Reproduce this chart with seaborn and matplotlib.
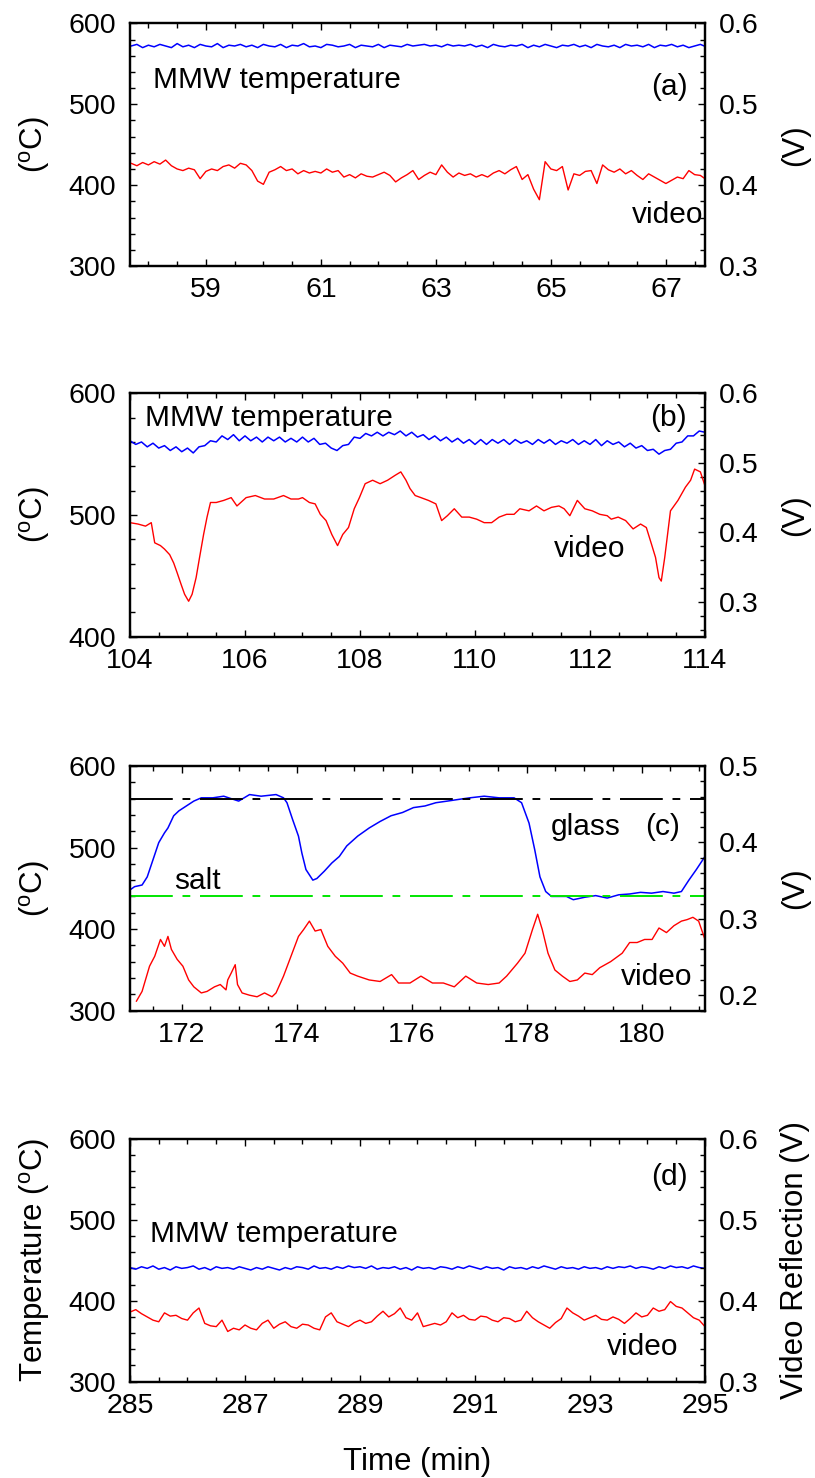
import matplotlib
matplotlib.use('Agg')
import matplotlib.pyplot as plt
from matplotlib.ticker import MultipleLocator
import seaborn as sns

# ---------------- panel (a) ----------------
# MMW and video share one time base in this panel
time_a = [
    57.7, 57.8, 57.9, 58.0, 58.1, 58.2, 58.3, 58.4, 58.5, 58.6,
    58.7, 58.8, 58.9, 59.0, 59.1, 59.2, 59.3, 59.4, 59.5, 59.6,
    59.7, 59.8, 59.9, 60.0, 60.1, 60.2, 60.3, 60.4, 60.5, 60.6,
    60.7, 60.8, 60.9, 61.0, 61.1, 61.2, 61.3, 61.4, 61.5, 61.6,
    61.7, 61.8, 61.9, 62.0, 62.1, 62.2, 62.3, 62.4, 62.5, 62.6,
    62.7, 62.8, 62.9, 63.0, 63.1, 63.2, 63.3, 63.4, 63.5, 63.6,
    63.7, 63.8, 63.9, 64.0, 64.1, 64.2, 64.3, 64.4, 64.5, 64.6,
    64.7, 64.8, 64.9, 65.0, 65.1, 65.2, 65.3, 65.4, 65.5, 65.6,
    65.7, 65.8, 65.9, 66.0, 66.1, 66.2, 66.3, 66.4, 66.5, 66.6,
    66.7, 66.8, 66.9, 67.0, 67.1, 67.2, 67.3, 67.4, 67.5, 67.6,
    67.7]
mmw_a = [
    572, 574, 570, 573, 571, 574, 572, 570, 575, 571,
    573, 570, 574, 572, 571, 575, 570, 573, 572, 574,
    571, 573, 570, 574, 572, 571, 574, 570, 573, 572,
    575, 571, 572, 570, 574, 573, 571, 572, 574, 570,
    573, 572, 571, 574, 570, 573, 572, 571, 574, 572,
    573, 574, 572, 573, 571, 574, 572, 573, 572, 574,
    571, 573, 570, 574, 572, 571, 573, 572, 574, 570,
    573, 571, 574, 572, 570, 573, 572, 574, 571, 573,
    570, 574, 572, 571, 573, 570, 574, 572, 573, 571,
    574, 570, 573, 572, 574, 571, 573, 570, 572, 574,
    571]
video_a = [
    0.427, 0.424, 0.428, 0.425, 0.429, 0.426, 0.431, 0.424, 0.420, 0.418,
    0.421, 0.419, 0.408, 0.417, 0.420, 0.418, 0.423, 0.425, 0.421, 0.427,
    0.425, 0.418, 0.405, 0.401, 0.416, 0.419, 0.423, 0.418, 0.420, 0.414,
    0.418, 0.415, 0.417, 0.415, 0.420, 0.416, 0.418, 0.410, 0.413, 0.409,
    0.414, 0.411, 0.410, 0.413, 0.416, 0.412, 0.404, 0.409, 0.413, 0.418,
    0.407, 0.412, 0.416, 0.413, 0.425, 0.416, 0.410, 0.415, 0.412, 0.414,
    0.410, 0.413, 0.410, 0.415, 0.418, 0.414, 0.419, 0.423, 0.407, 0.413,
    0.395, 0.382, 0.429, 0.420, 0.418, 0.423, 0.394, 0.414, 0.412, 0.417,
    0.418, 0.402, 0.425, 0.419, 0.416, 0.420, 0.414, 0.418, 0.412, 0.407,
    0.414, 0.410, 0.406, 0.402, 0.406, 0.410, 0.408, 0.418, 0.413, 0.412,
    0.407]

# ---------------- panel (b) ----------------
time_b_mmw = [
    104.0, 104.1, 104.2, 104.3, 104.4, 104.5, 104.6, 104.7, 104.8, 104.9,
    105.0, 105.1, 105.2, 105.3, 105.4, 105.5, 105.6, 105.7, 105.8, 105.9,
    106.0, 106.1, 106.2, 106.3, 106.4, 106.5, 106.6, 106.7, 106.8, 106.9,
    107.0, 107.1, 107.2, 107.3, 107.4, 107.5, 107.6, 107.7, 107.8, 107.9,
    108.0, 108.1, 108.2, 108.3, 108.4, 108.5, 108.6, 108.7, 108.8, 108.9,
    109.0, 109.1, 109.2, 109.3, 109.4, 109.5, 109.6, 109.7, 109.8, 109.9,
    110.0, 110.1, 110.2, 110.3, 110.4, 110.5, 110.6, 110.7, 110.8, 110.9,
    111.0, 111.1, 111.2, 111.3, 111.4, 111.5, 111.6, 111.7, 111.8, 111.9,
    112.0, 112.1, 112.2, 112.3, 112.4, 112.5, 112.6, 112.7, 112.8, 112.9,
    113.0, 113.1, 113.2, 113.3, 113.4, 113.5, 113.6, 113.7, 113.8, 113.9,
    114.0]
mmw_b = [
    561, 558, 560, 556, 559, 555, 557, 553, 556, 552,
    555, 551, 556, 557, 561, 560, 565, 562, 566, 561,
    565, 561, 564, 560, 564, 561, 564, 560, 563, 560,
    564, 560, 563, 558, 559, 555, 553, 557, 558, 564,
    563, 567, 565, 568, 565, 568, 566, 569, 565, 568,
    564, 566, 562, 565, 561, 564, 560, 563, 559, 562,
    558, 562, 558, 562, 559, 562, 558, 562, 559, 561,
    558, 562, 559, 562, 558, 561, 559, 562, 558, 561,
    558, 562, 557, 561, 558, 560, 556, 559, 555, 557,
    553, 554, 550, 553, 554, 559, 560, 565, 565, 569,
    568]
time_b_video = [
    104.00, 104.14, 104.27, 104.37, 104.43, 104.53, 104.60, 104.69, 104.76, 104.82,
    104.89, 104.95, 105.02, 105.08, 105.15, 105.21, 105.28, 105.34, 105.40, 105.50,
    105.63, 105.76, 105.86, 106.02, 106.18, 106.34, 106.50, 106.67, 106.80, 106.93,
    107.00, 107.12, 107.22, 107.31, 107.41, 107.51, 107.61, 107.70, 107.80, 107.90,
    107.99, 108.09, 108.22, 108.35, 108.48, 108.61, 108.71, 108.80, 108.87, 108.96,
    109.06, 109.19, 109.32, 109.42, 109.52, 109.64, 109.77, 109.90, 110.03, 110.16,
    110.29, 110.42, 110.55, 110.68, 110.78, 110.94, 111.07, 111.20, 111.33, 111.46,
    111.55, 111.65, 111.78, 111.91, 112.04, 112.17, 112.30, 112.37, 112.49, 112.62,
    112.75, 112.88, 112.98, 113.07, 113.14, 113.20, 113.24, 113.30, 113.40, 113.53,
    113.66, 113.75, 113.82, 113.92, 114.00]
video_b = [
    0.414, 0.412, 0.409, 0.414, 0.385, 0.381, 0.376, 0.368, 0.356, 0.342,
    0.325, 0.311, 0.301, 0.311, 0.335, 0.364, 0.397, 0.422, 0.443, 0.443,
    0.446, 0.450, 0.438, 0.450, 0.453, 0.448, 0.448, 0.453, 0.448, 0.448,
    0.450, 0.443, 0.441, 0.426, 0.417, 0.397, 0.381, 0.397, 0.407, 0.434,
    0.450, 0.470, 0.475, 0.470, 0.475, 0.482, 0.487, 0.475, 0.463, 0.453,
    0.450, 0.446, 0.441, 0.417, 0.424, 0.434, 0.422, 0.422, 0.419, 0.414,
    0.414, 0.422, 0.426, 0.426, 0.434, 0.431, 0.438, 0.431, 0.436, 0.438,
    0.434, 0.424, 0.446, 0.434, 0.431, 0.426, 0.424, 0.419, 0.422, 0.417,
    0.405, 0.412, 0.407, 0.383, 0.364, 0.335, 0.330, 0.364, 0.431, 0.446,
    0.465, 0.475, 0.491, 0.487, 0.467]

# ---------------- panel (c) ----------------
time_c_mmw = [
    171.10, 171.18, 171.31, 171.40, 171.50, 171.60, 171.70, 171.76, 171.86, 171.95,
    172.08, 172.21, 172.34, 172.54, 172.73, 172.99, 173.18, 173.38, 173.64, 173.77,
    173.83, 173.93, 174.03, 174.09, 174.16, 174.28, 174.35, 174.48, 174.61, 174.74,
    174.87, 175.06, 175.26, 175.45, 175.64, 175.84, 176.03, 176.23, 176.42, 176.62,
    176.81, 177.01, 177.26, 177.52, 177.78, 177.91, 178.04, 178.14, 178.23, 178.33,
    178.43, 178.69, 178.81, 179.01, 179.20, 179.40, 179.60, 179.79, 179.98, 180.17,
    180.37, 180.56, 180.69, 180.82, 180.95, 181.10]
mmw_c = [
    448, 452, 454, 464, 485, 506, 518, 524, 539, 545,
    551, 557, 561, 561, 563, 557, 565, 563, 565, 561,
    555, 534, 514, 493, 473, 460, 462, 471, 481, 489,
    502, 514, 524, 532, 539, 543, 549, 551, 555, 557,
    559, 561, 563, 561, 561, 555, 530, 497, 464, 446,
    440, 440, 436, 439, 441, 438, 442, 443, 445, 444,
    446, 444, 446, 460, 473, 489]
time_c_video = [
    171.21, 171.31, 171.44, 171.53, 171.63, 171.70, 171.76, 171.82, 171.92, 172.02,
    172.12, 172.21, 172.34, 172.44, 172.57, 172.67, 172.77, 172.80, 172.86, 172.93,
    172.97, 173.05, 173.18, 173.31, 173.44, 173.57, 173.64, 173.77, 173.90, 174.03,
    174.12, 174.22, 174.32, 174.42, 174.54, 174.67, 174.80, 174.93, 175.06, 175.26,
    175.45, 175.65, 175.77, 175.97, 176.16, 176.36, 176.55, 176.74, 176.94, 177.13,
    177.33, 177.52, 177.65, 177.84, 177.97, 178.10, 178.19, 178.27, 178.37, 178.49,
    178.62, 178.75, 178.88, 179.01, 179.14, 179.27, 179.46, 179.66, 179.79, 179.92,
    180.05, 180.18, 180.30, 180.43, 180.56, 180.69, 180.79, 180.89, 180.99, 181.10]
video_c = [
    0.192, 0.205, 0.238, 0.251, 0.273, 0.264, 0.277, 0.260, 0.247, 0.238,
    0.220, 0.211, 0.203, 0.205, 0.211, 0.214, 0.207, 0.220, 0.229, 0.240,
    0.214, 0.203, 0.200, 0.198, 0.203, 0.198, 0.203, 0.225, 0.251, 0.277,
    0.286, 0.297, 0.284, 0.286, 0.264, 0.251, 0.242, 0.229, 0.225, 0.220,
    0.218, 0.227, 0.216, 0.216, 0.225, 0.216, 0.216, 0.211, 0.225, 0.216,
    0.214, 0.216, 0.225, 0.242, 0.255, 0.286, 0.306, 0.286, 0.255, 0.233,
    0.225, 0.218, 0.220, 0.229, 0.227, 0.236, 0.244, 0.255, 0.269, 0.269,
    0.273, 0.273, 0.288, 0.282, 0.291, 0.297, 0.299, 0.302, 0.297, 0.273]
glass_temp = 560
salt_temp = 440

# ---------------- panel (d) ----------------
time_d = [
    285.0, 285.1, 285.2, 285.3, 285.4, 285.5, 285.6, 285.7, 285.8, 285.9,
    286.0, 286.1, 286.2, 286.3, 286.4, 286.5, 286.6, 286.7, 286.8, 286.9,
    287.0, 287.1, 287.2, 287.3, 287.4, 287.5, 287.6, 287.7, 287.8, 287.9,
    288.0, 288.1, 288.2, 288.3, 288.4, 288.5, 288.6, 288.7, 288.8, 288.9,
    289.0, 289.1, 289.2, 289.3, 289.4, 289.5, 289.6, 289.7, 289.8, 289.9,
    290.0, 290.1, 290.2, 290.3, 290.4, 290.5, 290.6, 290.7, 290.8, 290.9,
    291.0, 291.1, 291.2, 291.3, 291.4, 291.5, 291.6, 291.7, 291.8, 291.9,
    292.0, 292.1, 292.2, 292.3, 292.4, 292.5, 292.6, 292.7, 292.8, 292.9,
    293.0, 293.1, 293.2, 293.3, 293.4, 293.5, 293.6, 293.7, 293.8, 293.9,
    294.0, 294.1, 294.2, 294.3, 294.4, 294.5, 294.6, 294.7, 294.8, 294.9,
    295.0]
mmw_d = [
    441, 439, 442, 440, 443, 439, 441, 438, 442, 440,
    441, 443, 439, 441, 438, 442, 440, 441, 439, 442,
    440, 438, 441, 439, 442, 440, 438, 441, 439, 442,
    441, 439, 443, 440, 441, 439, 442, 440, 443, 441,
    442, 440, 443, 439, 441, 440, 442, 439, 441, 438,
    442, 440, 441, 439, 442, 441, 439, 442, 440, 443,
    441, 439, 442, 440, 441, 438, 442, 440, 441, 439,
    442, 440, 443, 441, 439, 442, 440, 441, 439, 442,
    440, 441, 439, 442, 440, 442, 441, 443, 440, 442,
    441, 439, 442, 440, 443, 441, 442, 440, 443, 441,
    440]
video_d = [
    0.386, 0.389, 0.384, 0.380, 0.376, 0.374, 0.385, 0.381, 0.382, 0.378,
    0.376, 0.385, 0.391, 0.372, 0.369, 0.368, 0.376, 0.362, 0.366, 0.364,
    0.370, 0.366, 0.364, 0.372, 0.376, 0.366, 0.371, 0.374, 0.368, 0.366,
    0.371, 0.370, 0.366, 0.364, 0.380, 0.385, 0.374, 0.371, 0.368, 0.373,
    0.376, 0.372, 0.374, 0.381, 0.387, 0.380, 0.384, 0.391, 0.379, 0.376,
    0.385, 0.368, 0.370, 0.372, 0.370, 0.374, 0.385, 0.379, 0.382, 0.377,
    0.376, 0.381, 0.380, 0.376, 0.374, 0.379, 0.378, 0.374, 0.376, 0.387,
    0.379, 0.374, 0.370, 0.366, 0.373, 0.378, 0.391, 0.385, 0.381, 0.376,
    0.379, 0.382, 0.377, 0.376, 0.380, 0.377, 0.372, 0.378, 0.385, 0.380,
    0.382, 0.391, 0.387, 0.389, 0.399, 0.393, 0.391, 0.385, 0.379, 0.376,
    0.368]

# ---------------- styling ----------------
sns.set_style('ticks')
plt.rcParams['font.family'] = ['Liberation Sans', 'DejaVu Sans']
plt.rcParams['mathtext.fontset'] = 'custom'
plt.rcParams['mathtext.rm'] = 'Liberation Sans'
plt.rcParams['mathtext.it'] = 'Liberation Sans:italic'
for key in ['text.color', 'axes.labelcolor', 'xtick.color', 'ytick.color', 'axes.edgecolor']:
    plt.rcParams[key] = 'black'

TICK_SIZE = 20.5
TEXT_SIZE = 21.5
LABEL_SIZE = 22.5
BLUE = '#0000ff'
RED = '#ff0000'
GREEN = '#00e600'
DASH_DOT = (0, (22, 5, 4, 5))
DEG_C = r'($^{\rm o}$C)'

fig = plt.figure(figsize=(8.15, 14.78), dpi=100)


def make_panel(rect, t_mmw, mmw, t_vid, vid, xlim, xticks, tlim, tticks, vlim, vticks):
    ax = fig.add_axes(rect)
    ax2 = ax.twinx()

    # MMW temperature on the left axis, video reflection on the right axis
    sns.lineplot(x=t_mmw, y=mmw, ax=ax, color=BLUE, linewidth=1.1, legend=False)
    sns.lineplot(x=t_vid, y=vid, ax=ax2, color=RED, linewidth=1.0, legend=False)

    ax.set_xlim(*xlim)
    ax.set_ylim(*tlim)
    ax2.set_ylim(*vlim)

    ax.set_xticks(xticks)
    ax.set_xticklabels([str(x) for x in xticks])
    ax.set_yticks(tticks)
    ax.set_yticklabels([str(t) for t in tticks])
    ax2.set_yticks(vticks)
    ax2.set_yticklabels(['%.1f' % v for v in vticks])

    ax.xaxis.set_minor_locator(MultipleLocator(0.5))
    ax.yaxis.set_minor_locator(MultipleLocator(20))
    ax2.yaxis.set_minor_locator(MultipleLocator(0.02))

    ax.tick_params(axis='x', which='both', direction='in', top=True, bottom=True,
                   labelsize=TICK_SIZE, pad=8)
    ax.tick_params(axis='y', which='both', direction='in', left=True, right=False,
                   labelsize=TICK_SIZE, pad=10)
    ax2.tick_params(axis='y', which='both', direction='in', right=True, left=False,
                    labelsize=TICK_SIZE, pad=10)
    for a in (ax, ax2):
        a.tick_params(which='major', length=5, width=1, color='black', labelcolor='black')
        a.tick_params(which='minor', length=3.5, width=1, color='black')
        for s in a.spines.values():
            s.set_visible(True)
            s.set_linewidth(1.6)
            s.set_color('black')

    ax.set_xlabel('')
    ax.set_ylabel(DEG_C, fontsize=LABEL_SIZE)
    ax2.set_ylabel('(V)', fontsize=LABEL_SIZE)
    ax.yaxis.set_label_coords(-0.135, 0.5)
    ax2.yaxis.set_label_coords(1.13, 0.5)
    return ax, ax2


def label(ax, x, y, s, ha='center'):
    ax.text(x, y, s, transform=ax.transAxes, fontsize=TEXT_SIZE,
            ha=ha, va='baseline', color='black')


# (a)
ax, ax2 = make_panel([0.1595, 0.8200, 0.7055, 0.1642], time_a, mmw_a, time_a, video_a,
                     (57.68, 67.68), [59, 61, 63, 65, 67], (300, 600), [300, 400, 500, 600],
                     (0.3, 0.6), [0.3, 0.4, 0.5, 0.6])
label(ax, 0.0395, 0.733, 'MMW temperature', ha='left')
label(ax, 0.939, 0.705, '(a)')
label(ax, 0.935, 0.178, 'video')

# (b)
ax, ax2 = make_panel([0.1595, 0.5692, 0.7055, 0.1647], time_b_mmw, mmw_b, time_b_video, video_b,
                     (104, 114), [104, 106, 108, 110, 112, 114], (400, 600), [400, 500, 600],
                     (0.25, 0.6), [0.3, 0.4, 0.5, 0.6])
label(ax, 0.0256, 0.865, 'MMW temperature', ha='left')
label(ax, 0.937, 0.865, '(b)')
label(ax, 0.80, 0.328, 'video')

# (c) with glass and salt reference levels
ax, ax2 = make_panel([0.1595, 0.3163, 0.7055, 0.1654], time_c_mmw, mmw_c, time_c_video, video_c,
                     (171.1, 181.1), [172, 174, 176, 178, 180], (300, 600), [300, 400, 500, 600],
                     (0.18, 0.5), [0.2, 0.3, 0.4, 0.5])
ax.axhline(glass_temp, color='black', linewidth=1.4, linestyle=DASH_DOT)
ax.axhline(salt_temp, color=GREEN, linewidth=1.4, linestyle=DASH_DOT)
label(ax, 0.793, 0.717, 'glass')
label(ax, 0.927, 0.717, '(c)')
label(ax, 0.118, 0.498, 'salt')
label(ax, 0.916, 0.103, 'video')

# (d)
ax, ax2 = make_panel([0.1595, 0.0652, 0.7055, 0.1642], time_d, mmw_d, time_d, video_d,
                     (285, 295), [285, 287, 289, 291, 293, 295], (300, 600), [300, 400, 500, 600],
                     (0.3, 0.6), [0.3, 0.4, 0.5, 0.6])
ax.set_ylabel('Temperature ' + DEG_C, fontsize=LABEL_SIZE)
ax.yaxis.set_label_coords(-0.135, 0.5)
ax2.set_ylabel('Video Reflection (V)', fontsize=LABEL_SIZE)
ax2.yaxis.set_label_coords(1.13, 0.5)
ax.set_xlabel('Time (min)', fontsize=LABEL_SIZE)
ax.xaxis.set_label_coords(0.5, -0.268)
label(ax, 0.939, 0.810, '(d)')
label(ax, 0.0356, 0.577, 'MMW temperature', ha='left')
label(ax, 0.891, 0.110, 'video')

fig.savefig('out.png', dpi=100)
